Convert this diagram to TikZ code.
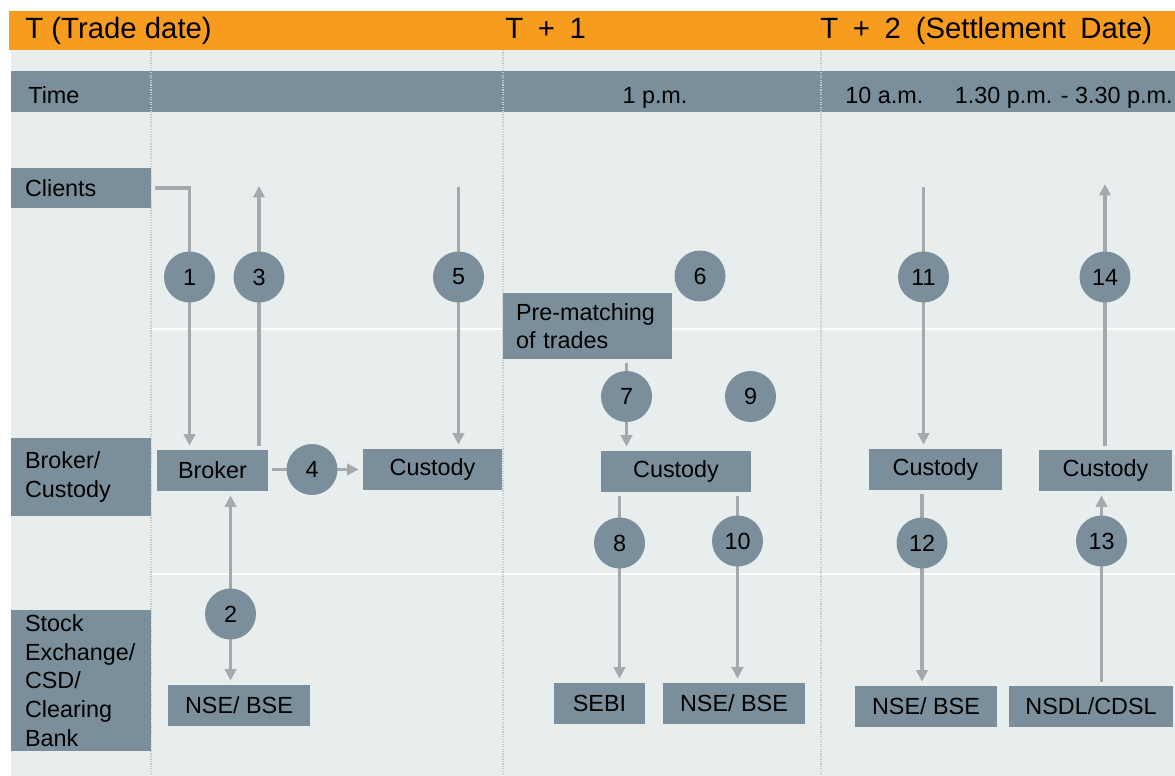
\documentclass[tikz,border=0pt]{standalone}
\usepackage{fontspec}
\setmainfont{Liberation Sans}
\usetikzlibrary{arrows.meta}
\usepackage{xcolor}

\definecolor{hdrorange}{HTML}{F89C1F}
\definecolor{panelbg}{HTML}{E8EDEE}
\definecolor{boxgrey}{HTML}{7A8F9B}
\definecolor{flowgrey}{HTML}{A6A9AB}
\definecolor{gridgrey}{HTML}{C6CACC}

\newcommand\hdrfont{\fontsize{16.7pt}{20pt}\selectfont}

\pgfdeclarelayer{panel}
\pgfdeclarelayer{flows}
\pgfsetlayers{panel,flows,main}

\tikzset{
  box/.style={fill=boxgrey, inner sep=0pt, minimum height=0.82cm},
  lanelbl/.style={fill=boxgrey, inner sep=0pt, inner xsep=0.28cm, text width=2.24cm, align=left},
  stepnum/.style={circle, fill=boxgrey, inner sep=0pt, minimum size=1.02cm},
  plaintxt/.style={inner sep=0pt, anchor=base west},
  flow/.style={flowgrey, line width=2.2pt, ->, shorten <=2.3pt, shorten >=2.3pt},
  lanesep/.style={gridgrey, line width=0.8pt, dash pattern=on 0.7pt off 0.7pt}
}

\begin{document}
\begin{tikzpicture}[x=0.02cm, y=-0.02cm, >={Triangle[length=6.5pt,width=6.4pt]}, font=\fontsize{13.3pt}{16.3pt}\selectfont]
  \useasboundingbox (0,0) rectangle (1175,776);
  \begin{pgfonlayer}{panel}
    \fill[hdrorange] (9,11) rectangle (1175,50);
    \fill[panelbg] (11,50) rectangle (1175,776);
    \fill[boxgrey] (11,71) rectangle (1175,112);
    \draw[white, line width=0.9pt] (151,329) -- (1175,329);
    \draw[white, line width=0.9pt] (151,574) -- (1175,574);
    \foreach \x in {151,503,821}
      \draw[lanesep] (\x,50) -- (\x,776);
  \end{pgfonlayer}

  \node (hdrT)  [plaintxt, font=\hdrfont] at (25,39) {T (Trade date)};
  \node (hdrT1) [plaintxt, font=\hdrfont] at (505,39) {T\enspace+\enspace1};
  \node (hdrT2) [plaintxt, font=\hdrfont] at (820,39) {T\enspace+\enspace2\enspace(Settlement\enspace Date)};

  \node (time)  [plaintxt] at (28,104) {Time};
  \node (t1pm)  [plaintxt, anchor=base] at (655,104) {1 p.m.};
  \node (t10am) [plaintxt] at (845,104) {10 a.m.};
  \node (t130)  [plaintxt, anchor=base east] at (1173,104) {1.30 p.m. - 3.30 p.m.};

  \node (clients)   [lanelbl, minimum height=0.8cm] at (81,188) {Clients};
  \node (brokerlbl) [lanelbl, minimum height=1.56cm] at (81,477) {Broker/\\Custody};
  \node (exchlbl)   [lanelbl, minimum height=2.82cm] at (81,680.5) {Stock\\Exchange/\\CSD/\\Clearing\\Bank};

  \node (broker)   [box, minimum width=2.22cm] at (212.5,470.5) {Broker};
  \node (custA)    [box, minimum width=2.78cm] at (432.5,469.5) {Custody};
  \node (nseA)     [box, minimum width=2.84cm] at (239,705.5) {NSE/ BSE};
  \node (prematch) [box, minimum height=1.32cm, text width=2.86cm, inner xsep=0.26cm, align=left] at (587.5,326) {Pre-matching\\of trades};
  \node (custB)    [box, minimum width=3cm] at (676,471.5) {Custody};
  \node (sebi)     [box, minimum width=1.82cm] at (599.5,703.5) {SEBI};
  \node (nseB)     [box, minimum width=2.84cm] at (734,703.5) {NSE/ BSE};
  \node (custC)    [box, minimum width=2.66cm] at (935.5,469.5) {Custody};
  \node (custD)    [box, minimum width=2.66cm] at (1105.5,470.5) {Custody};
  \node (nseC)     [box, minimum width=2.84cm] at (926,706.5) {NSE/ BSE};
  \node (nsdl)     [box, minimum width=3.28cm] at (1091,706.5) {NSDL/CDSL};

  \foreach \n/\x/\y in {1/189.5/277, 2/230.5/614, 3/259/277, 4/312/469.5, 5/458.5/277,
                        6/700/276, 7/626.5/396.5, 8/619.5/543, 9/750.5/396.5, 10/737.5/541,
                        11/923.5/277, 12/922/543, 13/1101.5/541, 14/1105/277}
    \node (s\n) [stepnum] at (\x,\y) {\n};

  \coordinate (top3)  at (259,182);
  \coordinate (top5)  at (458.5,183);
  \coordinate (top11) at (923.5,183);
  \coordinate (top14) at (1105,180);

  \begin{pgfonlayer}{flows}
    \draw[flow] (clients.east) -| (s1 |- broker.north);
    \draw[flow] (s3 |- broker.north) -- (top3);
    \draw[flow] (broker.east |- s4) -- (custA.west |- s4);
    \draw[flow] (top5) -- (s5 |- custA.north);
    \draw[flow, <->] (s2 |- broker.south) -- (s2 |- nseA.north);
    \draw[flow] (s7 |- prematch.south) -- (s7 |- custB.north);
    \draw[flow] (s8 |- custB.south) -- (s8 |- sebi.north);
    \draw[flow] (s10 |- custB.south) -- (s10 |- nseB.north);
    \draw[flow] (top11) -- (s11 |- custC.north);
    \draw[flow] (s12 |- custC.south) -- (s12 |- nseC.north);
    \draw[flow] (s13 |- nsdl.north) -- (s13 |- custD.south);
    \draw[flow] (s14 |- custD.north) -- (top14);
  \end{pgfonlayer}
\end{tikzpicture}
\end{document}
